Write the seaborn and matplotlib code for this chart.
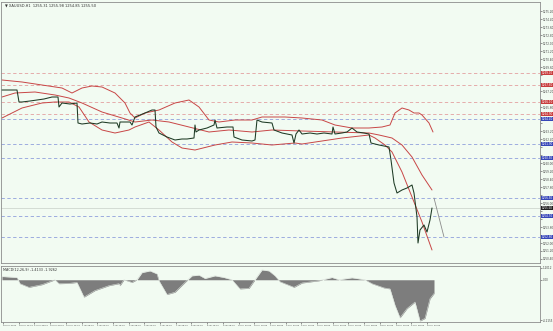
import numpy as np
import pandas as pd
import matplotlib
matplotlib.use("Agg")
import matplotlib.pyplot as plt
import matplotlib.transforms as mtransforms
import seaborn as sns

# ---------------- data ----------------
close_bar = [0, 15, 17, 20, 28, 35, 42, 50, 56, 57, 60, 68, 75, 76, 80, 88, 95, 100, 108, 115, 117, 118,
             128, 130, 133, 138, 143, 150, 153, 154, 157, 165, 173, 180, 185, 192, 193, 194, 197, 205,
             212, 213, 215, 225, 231, 232, 240, 250, 253, 255, 260, 270, 272, 280, 290, 292, 294, 297,
             300, 308, 315, 322, 330, 331, 333, 340, 345, 350, 355, 362, 367, 369, 377, 382, 387, 389,
             392, 395, 400, 405, 410, 412, 415, 416, 418, 422, 425, 428, 430]
close_val = [1267.3, 1267.3, 1266.1, 1266.1, 1266.2, 1266.3, 1266.4, 1266.6, 1266.6, 1265.6, 1266.0,
             1265.9, 1266.0, 1264.0, 1263.9, 1264.0, 1263.9, 1264.1, 1264.0, 1264.0, 1263.5, 1264.1,
             1264.1, 1263.8, 1264.6, 1264.8, 1265.0, 1265.3, 1265.3, 1263.6, 1263.0, 1262.6, 1262.3,
             1262.4, 1262.4, 1262.5, 1263.8, 1263.1, 1263.3, 1263.5, 1263.8, 1264.3, 1263.5, 1263.6,
             1263.6, 1262.6, 1262.3, 1262.2, 1262.3, 1264.3, 1264.1, 1264.0, 1263.3, 1263.0, 1262.8,
             1262.0, 1262.9, 1263.3, 1262.9, 1263.0, 1262.9, 1263.0, 1262.9, 1263.6, 1262.9, 1263.0,
             1263.1, 1263.5, 1263.1, 1263.0, 1262.9, 1262.0, 1261.8, 1261.7, 1261.6, 1260.3, 1258.0,
             1257.0, 1257.3, 1257.5, 1257.8, 1257.0, 1254.6, 1252.0, 1253.3, 1253.8, 1253.1, 1254.3,
             1255.5]

band_up_bar = [0, 20, 40, 60, 70, 80, 90, 100, 113, 123, 128, 133, 143, 157, 173, 187, 197, 207, 217,
               233, 250, 260, 283, 300, 320, 333, 350, 367, 380, 388, 393, 400, 407, 412, 417, 420, 427, 431]
band_up_val = [1268.3, 1268.1, 1267.8, 1267.5, 1267.0, 1267.5, 1267.7, 1267.6, 1267.0, 1266.0, 1265.0,
               1264.5, 1265.0, 1265.3, 1266.0, 1266.3, 1265.6, 1264.3, 1264.1, 1264.3, 1264.3, 1264.6,
               1264.6, 1264.5, 1264.3, 1263.8, 1263.5, 1263.5, 1263.6, 1263.8, 1265.0, 1265.5, 1265.3,
               1265.0, 1265.0, 1264.8, 1264.0, 1263.1]

band_mid_bar = [0, 13, 33, 53, 67, 80, 100, 120, 133, 150, 167, 187, 207, 227, 250, 270, 300, 333, 367,
                377, 390, 400, 410, 420, 430]
band_mid_val = [1266.6, 1267.0, 1267.1, 1266.8, 1266.5, 1266.0, 1265.1, 1264.5, 1264.1, 1264.3, 1264.1,
                1263.6, 1263.1, 1263.3, 1263.1, 1263.3, 1263.2, 1263.1, 1263.0, 1262.8, 1262.5, 1261.8,
                1260.6, 1258.8, 1257.3]

band_lo_bar = [0, 10, 20, 40, 53, 67, 77, 87, 100, 113, 127, 133, 147, 157, 170, 180, 193, 213, 230, 250,
               270, 293, 300, 320, 340, 367, 373, 383, 390, 400, 410, 420, 430]
band_lo_val = [1264.5, 1265.0, 1265.5, 1266.0, 1266.1, 1266.1, 1265.6, 1264.1, 1263.3, 1263.0, 1263.3,
               1263.6, 1264.1, 1263.3, 1262.1, 1261.5, 1261.3, 1261.8, 1262.1, 1262.0, 1261.8, 1262.0,
               1261.9, 1262.2, 1262.5, 1262.8, 1262.5, 1261.8, 1261.1, 1259.1, 1256.6, 1254.1, 1251.3]

proj_bar = [432, 442]
proj_val = [1256.5, 1252.6]

resistance_levels = [1269.0, 1267.8, 1266.1, 1264.9]
support_levels = [1264.4, 1261.9, 1260.5, 1256.5, 1254.7, 1252.6]
current_price = 1255.5

osc_bar = [0, 15, 18, 27, 40, 53, 57, 67, 75, 82, 93, 107, 117, 118, 122, 130, 135, 140, 148, 155, 157,
           165, 173, 183, 190, 197, 203, 213, 222, 230, 238, 247, 253, 260, 267, 273, 278, 292, 300, 317,
           330, 337, 350, 363, 370, 382, 388, 393, 398, 405, 413, 418, 423, 428, 432]
osc_val = [0.33, 0.23, -0.40, -0.77, -0.50, 0.0, -0.40, -0.37, -0.27, -1.77, -1.10, -0.60, -0.40, -0.60,
           0.0, -0.27, 0.0, 0.73, 0.90, 0.60, -0.10, -1.50, -1.27, -0.27, 0.40, 0.47, 0.13, 0.40, 0.23,
           0.0, -0.93, -0.87, 0.0, 1.00, 0.90, 0.40, -0.20, -0.77, -0.33, -0.10, 0.23, 0.0, 0.20, 0.0,
           -0.40, -0.83, -0.93, -2.60, -3.87, -2.93, -2.27, -4.20, -3.93, -1.93, -1.40]

date_labels = ["26 Jun 2014", "26 Jun 16:00", "27 Jun 08:00", "30 Jun 00:00", "30 Jun 16:00",
               "1 Jul 08:00", "2 Jul 00:00", "2 Jul 16:00", "3 Jul 08:00", "4 Jul 00:00",
               "4 Jul 16:00", "7 Jul 08:00", "8 Jul 00:00", "8 Jul 16:00", "9 Jul 08:00",
               "10 Jul 00:00", "10 Jul 16:00", "11 Jul 08:00", "14 Jul 00:00", "14 Jul 16:00",
               "15 Jul 08:00", "16 Jul 00:00", "16 Jul 16:00", "17 Jul 08:00", "18 Jul 00:00",
               "18 Jul 16:00", "21 Jul 08:00", "22 Jul 00:00"]

title_text = "\u25bc XAUUSD,H1  1255.31 1255.98 1254.85 1255.50"
osc_title = "MACD(12,26,9) -1.4133 -1.9262"

# ---------------- styling ----------------
sns.set_theme(style="white")
NARROW = ["Liberation Sans Narrow", "DejaVu Sans"]
plt.rcParams["font.family"] = NARROW
BG = "#F2FBF2"
SPINE = "#8c8c8c"
LBL = 2.0

fig = plt.figure(figsize=(5.53, 3.31), dpi=100, facecolor=BG)
ax = fig.add_axes([1 / 553, 68 / 331, 539 / 553, 261 / 331], facecolor=BG)
ax2 = fig.add_axes([1 / 553, 9 / 331, 539 / 553, 56 / 331], facecolor=BG)

for a in (ax, ax2):
    for s in a.spines.values():
        s.set_color(SPINE)
        s.set_linewidth(0.6)
    a.set_xlim(-1, 538)

# horizontal levels
for lv in resistance_levels:
    ax.axhline(lv, color="#e3a0a0", lw=0.6, ls=(0, (4, 3)), zorder=1)
for lv in support_levels:
    ax.axhline(lv, color="#8f9fdc", lw=0.6, ls=(0, (4, 3)), zorder=1)
ax.axhline(current_price, color="#c8cfc8", lw=0.5, zorder=1)

# bands
band_color = "#c84646"
for bx, by in ((band_up_bar, band_up_val), (band_mid_bar, band_mid_val), (band_lo_bar, band_lo_val)):
    sns.lineplot(x=bx, y=by, ax=ax, color=band_color, lw=0.7, sort=False, estimator=None, zorder=2)

# price
sns.lineplot(x=close_bar, y=close_val, ax=ax, color="#1d3a24", lw=0.75, sort=False,
             estimator=None, zorder=3)
sns.lineplot(x=proj_bar, y=proj_val, ax=ax, color="#8a8a8a", lw=0.6, sort=False,
             estimator=None, zorder=3)

ax.set_ylim(1250.0, 1276.1)
ax.set_xticks([])
ax.yaxis.tick_right()
levels_all = resistance_levels + support_levels + [current_price]
yt = np.arange(1250.4, 1276.0, 0.8)
ax.set_yticks(yt)
ax.set_yticklabels(["" if min(abs(v - l) for l in levels_all) < 0.45 else f"{v:.2f}" for v in yt])
ax.tick_params(axis="y", labelsize=LBL, pad=0.6, length=1.5, width=0.4, colors="#444444", right=True)
ax.set_xlabel("")
ax.set_ylabel("")

trans = mtransforms.blended_transform_factory(ax.transAxes, ax.transData)
def tag(v, fc):
    ax.text(1.003, v, f"{v:.2f}", transform=trans, fontsize=LBL, color="white", va="center",
            ha="left", family=NARROW,
            bbox=dict(boxstyle="square,pad=0.15", fc=fc, ec="none"), clip_on=False)
for lv in resistance_levels:
    tag(lv, "#c83c3c")
for lv in support_levels:
    tag(lv, "#3646b8")
tag(current_price, "#202020")

ax.text(0.007, 0.993, title_text, transform=ax.transAxes, fontsize=2.6, color="#333333",
        va="top", ha="left")

# oscillator
ax2.fill_between(osc_bar, 0, osc_val, color="#7d7d7d", lw=0, zorder=2)
sns.lineplot(x=osc_bar, y=osc_val, ax=ax2, color="#d8ded8", lw=0.4, sort=False, estimator=None, zorder=3)
ax2.set_ylim(-4.3, 1.4)
ax2.yaxis.tick_right()
ax2.set_yticks([1.2, 0.0, -4.1])
ax2.set_yticklabels(["1.2012", "0.00", "-4.2155"])
ax2.tick_params(axis="y", labelsize=LBL, pad=0.6, length=1.5, width=0.4, colors="#444444", right=True)
ticks = np.arange(len(date_labels)) * 15.7 + 1
ax2.set_xticks(ticks)
ax2.set_xticklabels(date_labels, ha="left")
ax2.tick_params(axis="x", labelsize=1.6, pad=0.6, length=1.5, width=0.4, colors="#444444", bottom=True)
ax2.set_xlabel("")
ax2.set_ylabel("")
ax2.text(0.004, 0.97, osc_title, transform=ax2.transAxes, fontsize=2.4, color="#333333",
         va="top", ha="left")

fig.savefig("out.png", dpi=100, facecolor=BG)
